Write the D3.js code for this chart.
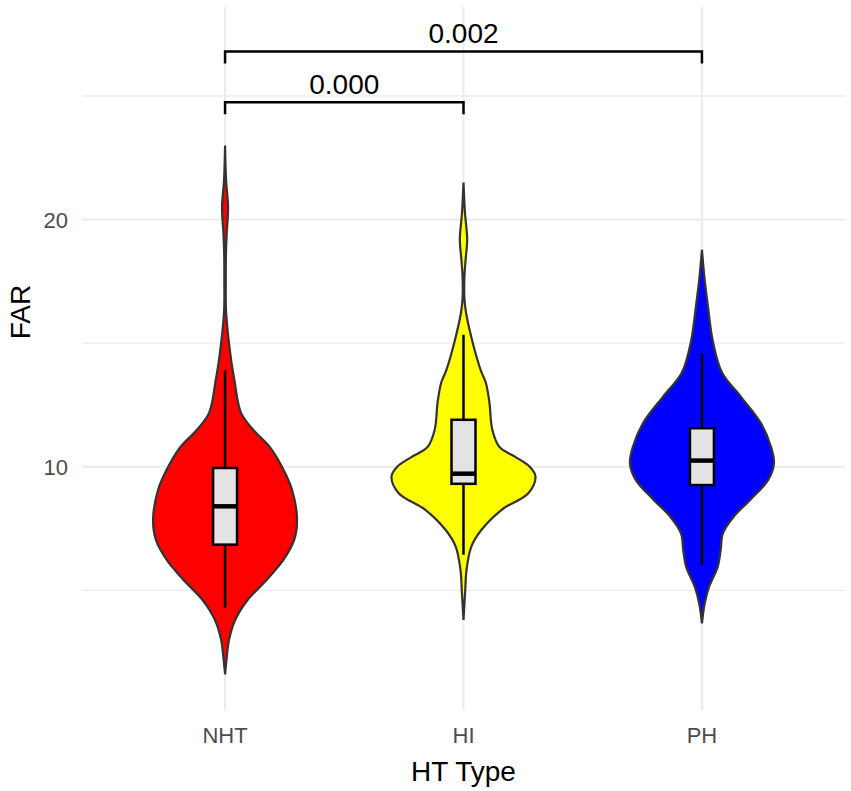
<html>
<head>
<script src="https://d3js.org/d3.v7.min.js"></script>
<style>
  body { margin: 0; background: #fff; }
  text { font-family: "Liberation Sans", Arial, sans-serif; }
</style>
</head>
<body>
<svg id="chart" width="851" height="791"></svg>
<script>

// categories and fill colours
var groups = ["NHT", "HI", "PH"];
var fills = ["#ff0000", "#ffff00", "#0000ff"];

// violin outlines: [FAR value, relative density]
var densNHT = [[1.6,0],[2.2,0.02],[3.0,0.055],[3.8,0.14],[4.6,0.31],[5.43,0.58],[6.23,0.81],
  [7.04,0.96],[7.85,1.0],[9.07,0.93],[10.0,0.79],[10.8,0.62],[11.5,0.39],[12.19,0.22],
  [13.5,0.13],[14.2,0.09],[15.0,0.055],[15.53,0.035],[16.4,0.012],[17.5,0.01],[18.56,0.012],
  [19.4,0.022],[20.5,0.042],[21.6,0.014],[23.0,0]];
var densHI = [[3.8,0],[5.0,0.024],[5.83,0.042],[6.78,0.11],[7.45,0.25],[8.26,0.53],[8.93,0.9],
  [9.6,1.0],[10.0,0.92],[10.4,0.72],[10.8,0.5],[11.5,0.4],[12.6,0.36],[13.4,0.31],[13.9,0.24],
  [15.0,0.13],[16.2,0.037],[16.8,0.013],[17.7,0.013],[18.4,0.03],[19.2,0.051],[20.3,0.02],[21.5,0]];
var densPH = [[3.66,0],[4.47,0.038],[5.15,0.1],[5.96,0.22],[6.63,0.26],[7.3,0.29],[7.98,0.44],
  [8.66,0.67],[9.47,0.92],[10.14,1.0],[10.8,0.96],[11.76,0.82],[12.84,0.54],[13.8,0.28],
  [15.1,0.15],[16.5,0.083],[17.56,0.038],[18.78,0]];
var densities = [densNHT, densHI, densPH];

// box stats: [lower whisker, Q1, median, Q3, upper whisker]
var boxNHT = [4.3, 6.85, 8.4, 9.95, 13.9];
var boxHI = [6.44, 9.31, 9.72, 11.9, 15.34];
var boxPH = [6.03, 9.26, 10.25, 11.56, 14.6];
var boxes = [boxNHT, boxHI, boxPH];

// significance brackets
var compFrom = ["NHT", "NHT"];
var compTo = ["HI", "PH"];
var compLabel = ["0.000", "0.002"];
var compLevel = [24.75, 26.8];

var majorTicks = [10, 20];
var minorTicks = [5, 15, 25];

var svg = d3.select("#chart");

// panel
var pLeft = 82, pRight = 845, pTop = 7, pBottom = 710;

var x = d3.scalePoint()
  .domain(groups)
  .range([pLeft, pRight])
  .padding(0.6);

var y = d3.scaleLinear()
  .domain([0.16, 28.6])
  .range([pBottom, pTop]);

var w = d3.scaleLinear().domain([0, 1]).range([0, 72]);

// grid
svg.append("g").selectAll("line")
  .data(minorTicks).enter().append("line")
    .attr("x1", pLeft).attr("x2", pRight)
    .attr("y1", function(d) { return y(d); })
    .attr("y2", function(d) { return y(d); })
    .attr("stroke", "#ececec").attr("stroke-width", 1.3);
svg.append("g").selectAll("line")
  .data(majorTicks).enter().append("line")
    .attr("x1", pLeft).attr("x2", pRight)
    .attr("y1", function(d) { return y(d); })
    .attr("y2", function(d) { return y(d); })
    .attr("stroke", "#ebebeb").attr("stroke-width", 2);
svg.append("g").selectAll("line")
  .data(groups).enter().append("line")
    .attr("x1", function(d) { return x(d); })
    .attr("x2", function(d) { return x(d); })
    .attr("y1", pTop).attr("y2", pBottom)
    .attr("stroke", "#ebebeb").attr("stroke-width", 2);

// violins
groups.forEach(function(g, i) {
  var cx = x(g);
  var area = d3.area()
    .curve(d3.curveCatmullRom)
    .y(function(d) { return y(d[0]); })
    .x0(function(d) { return cx - w(d[1]); })
    .x1(function(d) { return cx + w(d[1]); });
  svg.append("path")
    .datum(densities[i])
    .attr("d", area)
    .attr("fill", fills[i])
    .attr("stroke", "#333333")
    .attr("stroke-width", 2.2);
});

// boxplots
var bw = 12;
groups.forEach(function(g, i) {
  var cx = x(g), b = boxes[i];
  svg.append("line")
    .attr("x1", cx).attr("x2", cx)
    .attr("y1", y(b[0])).attr("y2", y(b[1]))
    .attr("stroke", "#000").attr("stroke-width", 2.5);
  svg.append("line")
    .attr("x1", cx).attr("x2", cx)
    .attr("y1", y(b[3])).attr("y2", y(b[4]))
    .attr("stroke", "#000").attr("stroke-width", 2.5);
  svg.append("rect")
    .attr("x", cx - bw).attr("width", bw * 2)
    .attr("y", y(b[3])).attr("height", y(b[1]) - y(b[3]))
    .attr("fill", "#e3e3e3")
    .attr("stroke", "#000").attr("stroke-width", 2.5);
  svg.append("line")
    .attr("x1", cx - bw).attr("x2", cx + bw)
    .attr("y1", y(b[2])).attr("y2", y(b[2]))
    .attr("stroke", "#000").attr("stroke-width", 4.5);
});

// brackets
compLabel.forEach(function(lab, i) {
  var x1 = x(compFrom[i]), x2 = x(compTo[i]), yl = y(compLevel[i]);
  svg.append("path")
    .attr("d", "M" + x1 + "," + (yl + 12) + "V" + yl + "H" + x2 + "V" + (yl + 12))
    .attr("fill", "none")
    .attr("stroke", "#000").attr("stroke-width", 2.5);
  svg.append("text")
    .attr("x", (x1 + x2) / 2)
    .attr("y", yl - 8)
    .attr("text-anchor", "middle")
    .style("font-size", "28px")
    .attr("fill", "#000")
    .text(lab);
});

// axis labels
svg.append("g").selectAll("text")
  .data(majorTicks).enter().append("text")
    .attr("x", 68)
    .attr("y", function(d) { return y(d); })
    .attr("dy", "0.36em")
    .attr("text-anchor", "end")
    .style("font-size", "22px")
    .attr("fill", "#4d4d4d")
    .text(function(d) { return d; });

svg.append("g").selectAll("text")
  .data(groups).enter().append("text")
    .attr("x", function(d) { return x(d); })
    .attr("y", 743)
    .attr("text-anchor", "middle")
    .style("font-size", "22px")
    .attr("fill", "#4d4d4d")
    .text(function(d) { return d; });

svg.append("text")
  .attr("x", (pLeft + pRight) / 2)
  .attr("y", 781)
  .attr("text-anchor", "middle")
  .style("font-size", "28px")
  .attr("fill", "#000")
  .text("HT Type");

svg.append("text")
  .attr("transform", "translate(30,312) rotate(-90)")
  .attr("text-anchor", "middle")
  .style("font-size", "28px")
  .attr("fill", "#000")
  .text("FAR");

</script>
</body>
</html>
